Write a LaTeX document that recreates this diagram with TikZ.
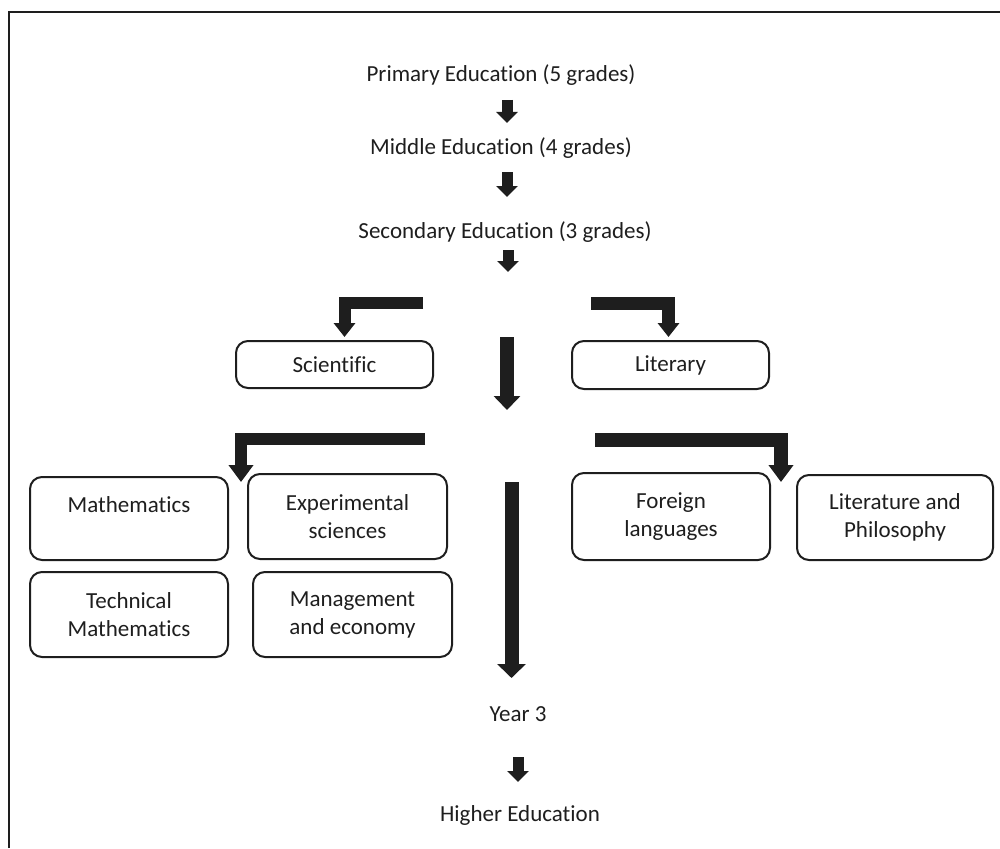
\documentclass[tikz,border=0pt]{standalone}
\usepackage{fontspec}
\setmainfont{Carlito}[Ligatures=NoCommon]
\usetikzlibrary{arrows.meta}
\definecolor{ink}{HTML}{1E1E1E}
\tikzset{
  lbl/.style={font=\fontsize{23}{28}\selectfont, text=ink, inner sep=0pt, align=center},
  rbox/.style={lbl, draw=ink, line width=2pt, rounded corners=12pt},
  blk/.style={draw=ink, line cap=butt, line join=miter},
}
\begin{document}
\begin{tikzpicture}[x=1pt,y=-1pt]
\useasboundingbox (0,0) rectangle (1000,848);
% frame
\draw[ink, line width=2.5pt] (9,848) -- (9,12) -- (1000,12);

% text nodes
\node[lbl] (prim) at (501,75) {Primary Education (5 grades)};
\node[lbl] (mid) at (501,148) {Middle Education (4 grades)};
\node[lbl] (sec) at (505,232) {Secondary Education (3 grades)};
\node[lbl] (year) at (518,714) {Year 3};
\node[lbl] (high) at (520,815) {Higher Education};

% boxes
\node[rbox, minimum width=197pt, minimum height=47pt] (sci) at (334.5,364.5) {Scientific};
\node[rbox, minimum width=197pt, minimum height=48pt] (lit) at (670.5,365) {Literary};
\node[rbox, minimum width=198pt, minimum height=83pt] (math) at (129,518.5) {Mathematics\\\mbox{}};
\node[rbox, minimum width=199pt, minimum height=85pt] (exp) at (347.5,516.5) {Experimental\\sciences};
\node[rbox, minimum width=198pt, minimum height=85pt] (tech) at (129,614.5) {Technical\\Mathematics};
\node[rbox, minimum width=199pt, minimum height=85pt] (mgmt) at (352.5,614.5) {Management\\and economy};
\node[rbox, minimum width=198pt, minimum height=87pt] (forl) at (671,516.5) {Foreign\\languages};
\node[rbox, minimum width=196pt, minimum height=85pt] (litp) at (895,517.5) {Literature and\\Philosophy};

% arrow end coordinates
\coordinate (a1s) at (507,100);  \coordinate (a1e) at (507,123);
\coordinate (a2s) at (507,172);  \coordinate (a2e) at (507,197);
\coordinate (a3s) at (508,250);  \coordinate (a3e) at (508,272);
\coordinate (b1s) at (423,303);  \coordinate (b1e) at (344.5,337);
\coordinate (b2s) at (591,303.5);\coordinate (b2e) at (668.5,337);
\coordinate (cs) at (507,337);   \coordinate (ce) at (507,410);
\coordinate (c1s) at (425,438.5);\coordinate (c1e) at (241,482);
\coordinate (c2s) at (595,440);  \coordinate (c2e) at (781,482);
\coordinate (ls) at (511.5,482); \coordinate (le) at (511.5,678);
\coordinate (hs) at (518,757);   \coordinate (he) at (518,782);

% small arrows
\draw[blk, line width=11pt, -{Triangle[length=11pt,width=21pt]}] (a1s) -- (a1e);
\draw[blk, line width=11pt, -{Triangle[length=11pt,width=21pt]}] (a2s) -- (a2e);
\draw[blk, line width=11pt, -{Triangle[length=11pt,width=21pt]}] (a3s) -- (a3e);
\draw[blk, line width=11pt, -{Triangle[length=11pt,width=21pt]}] (hs) -- (he);
% bent arrows level 1
\draw[blk, line width=12pt, -{Triangle[length=14pt,width=21pt]}] (b1s) -| (b1e);
\draw[blk, line width=13pt, -{Triangle[length=14pt,width=21pt]}] (b2s) -| (b2e);
\draw[blk, line width=14pt, -{Triangle[length=14pt,width=26pt]}] (cs) -- (ce);
% bent arrows level 2
\draw[blk, line width=12pt, -{Triangle[length=17pt,width=24pt]}] (c1s) -| (c1e);
\draw[blk, line width=14pt, -{Triangle[length=17pt,width=24pt]}] (c2s) -| (c2e);
% long arrow
\draw[blk, line width=14pt, -{Triangle[length=14pt,width=28pt]}] (ls) -- (le);
\end{tikzpicture}
\end{document}
